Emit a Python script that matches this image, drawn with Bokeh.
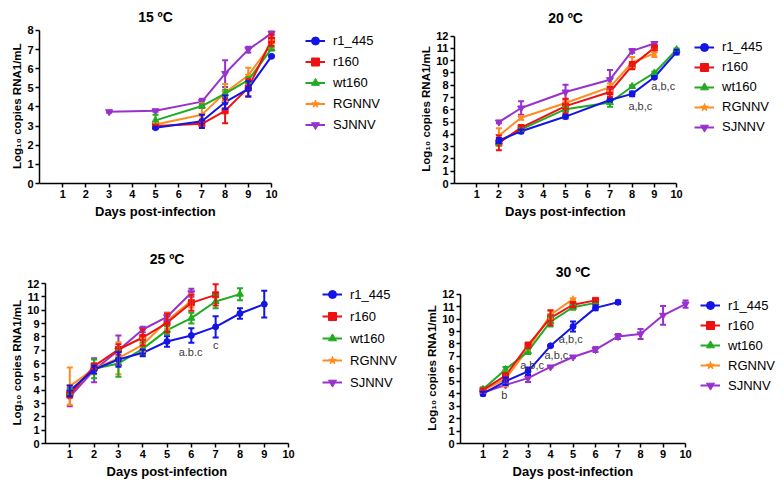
from bokeh.plotting import figure
from bokeh.layouts import column, row
from bokeh.models import (Range1d, FixedTicker, Legend, LegendItem, Whisker,
                          ColumnDataSource, Label, TeeHead, Title, Spacer)
from bokeh.embed import file_html
from bokeh.resources import INLINE

FONT = "Liberation Sans"

series = ["r1_445", "r160", "wt160", "RGNNV", "SJNNV"]
colors = {"r1_445": "#1414E6", "r160": "#EE1111", "wt160": "#22AA22",
          "RGNNV": "#FF8C1E", "SJNNV": "#9932CC"}
markers = {"r1_445": "circle", "r160": "square", "wt160": "triangle",
           "RGNNV": "star", "SJNNV": "inverted_triangle"}
msize = {"r1_445": 6, "r160": 6, "wt160": 7, "RGNNV": 7, "SJNNV": 7}

x_ticks = [1, 2, 3, 4, 5, 6, 7, 8, 9, 10]
x_label = "Days post-infection"
y_label = "Log\u2081\u2080 copies RNA1/mL"

# ---------------- 15 ºC ----------------
days15 = {"r1_445": [5, 7, 8, 9, 10], "r160": [5, 7, 8, 9, 10],
          "wt160": [5, 7, 8, 9, 10], "RGNNV": [5, 7, 8, 9, 10],
          "SJNNV": [3, 5, 7, 8, 9, 10]}
mean15 = {"r1_445": [2.92, 3.25, 4.25, 4.95, 6.65],
          "r160": [3.0, 3.12, 3.8, 5.0, 7.5],
          "wt160": [3.3, 4.05, 4.7, 5.4, 7.05],
          "RGNNV": [3.08, 3.6, 4.75, 5.65, 7.3],
          "SJNNV": [3.75, 3.8, 4.28, 5.75, 7.0, 7.85]}
sd15 = {"r1_445": [0.05, 0.35, 0.35, 0.4, 0.05],
        "r160": [0.05, 0.1, 0.65, 0.45, 0.3],
        "wt160": [0.3, 0.1, 0.2, 0.15, 0.1],
        "RGNNV": [0.1, 0.6, 0.45, 0.4, 0.2],
        "SJNNV": [0.05, 0.05, 0.15, 0.7, 0.15, 0.1]}

# ---------------- 20 ºC ----------------
days20 = {"r1_445": [2, 3, 5, 7, 8, 9, 10], "r160": [2, 3, 5, 7, 8, 9],
          "wt160": [2, 3, 5, 7, 8, 9, 10], "RGNNV": [2, 3, 5, 7, 8, 9],
          "SJNNV": [2, 3, 5, 7, 8, 9]}
mean20 = {"r1_445": [3.5, 4.25, 5.45, 6.8, 7.3, 8.65, 10.7],
          "r160": [3.3, 4.55, 6.3, 7.45, 9.6, 11.05],
          "wt160": [3.4, 4.4, 6.05, 6.6, 7.9, 9.0, 10.9],
          "RGNNV": [3.9, 5.35, 6.55, 7.85, 9.85, 10.6],
          "SJNNV": [5.0, 6.15, 7.45, 8.45, 10.8, 11.4]}
sd20 = {"r1_445": [0.2, 0.15, 0.15, 0.1, 0.2, 0.1, 0.2],
        "r160": [0.6, 0.2, 0.6, 0.4, 0.3, 0.2],
        "wt160": [0.3, 0.1, 0.2, 0.35, 0.1, 0.1, 0.1],
        "RGNNV": [0.6, 0.15, 0.3, 0.3, 0.45, 0.3],
        "SJNNV": [0.1, 0.55, 0.6, 0.8, 0.15, 0.1]}
notes20 = [("a,b,c", 8.37, 6.3), ("a,b,c", 9.4, 7.9)]

# ---------------- 25 ºC ----------------
days25 = {"r1_445": [1, 2, 3, 4, 5, 6, 7, 8, 9], "r160": [1, 2, 3, 4, 5, 6, 7],
          "wt160": [1, 2, 3, 4, 5, 6, 7, 8], "RGNNV": [1, 2, 3, 4, 5, 6],
          "SJNNV": [1, 2, 3, 4, 5, 6]}
mean25 = {"r1_445": [3.95, 5.55, 6.3, 6.8, 7.65, 8.1, 8.75, 9.75, 10.45],
          "r160": [3.65, 5.8, 7.05, 7.95, 9.05, 10.55, 11.15],
          "wt160": [3.9, 5.6, 6.0, 7.1, 8.5, 9.4, 10.65, 11.2],
          "RGNNV": [4.3, 5.6, 6.4, 7.4, 9.2, 10.7],
          "SJNNV": [3.5, 5.5, 7.0, 8.55, 9.5, 11.3]}
sd25 = {"r1_445": [0.4, 0.3, 0.55, 0.25, 0.4, 0.55, 0.8, 0.4, 1.0],
        "r160": [0.2, 0.2, 0.4, 0.6, 0.7, 0.6, 0.8],
        "wt160": [0.2, 0.7, 1.0, 0.5, 0.3, 0.4, 0.5, 0.45],
        "RGNNV": [1.4, 0.4, 1.2, 0.5, 0.6, 0.5],
        "SJNNV": [0.7, 0.9, 1.1, 0.2, 0.3, 0.3]}
notes25 = [("a.b.c", 5.97, 6.88), ("c", 7.0, 7.4)]

# ---------------- 30 ºC ----------------
days30 = {"r1_445": [1, 2, 3, 4, 5, 6, 7], "r160": [1, 2, 3, 4, 5, 6],
          "wt160": [1, 2, 3, 4, 5, 6], "RGNNV": [1, 2, 3, 4, 5],
          "SJNNV": [1, 2, 3, 4, 5, 6, 7, 8, 9, 10]}
mean30 = {"r1_445": [4.0, 5.0, 5.8, 7.85, 9.4, 10.9, 11.35],
          "r160": [4.3, 5.45, 7.9, 10.1, 11.15, 11.5],
          "wt160": [4.35, 5.95, 7.4, 9.8, 10.95, 11.3],
          "RGNNV": [4.25, 5.2, 7.6, 10.35, 11.6],
          "SJNNV": [4.1, 4.7, 5.25, 6.15, 6.95, 7.55, 8.6, 8.8, 10.3, 11.2]}
sd30 = {"r1_445": [0.15, 0.3, 0.3, 0.05, 0.4, 0.2, 0.15],
        "r160": [0.1, 0.2, 0.2, 0.6, 0.2, 0.1],
        "wt160": [0.1, 0.2, 0.2, 0.4, 0.2, 0.1],
        "RGNNV": [0.05, 0.6, 0.1, 0.3, 0.05],
        "SJNNV": [0.05, 0.1, 0.3, 0.05, 0.05, 0.2, 0.2, 0.4, 0.75, 0.3]}
notes30 = [("b", 1.95, 3.9), ("a,b,c", 3.18, 6.3), ("a,b,c", 4.26, 7.15),
           ("a,b,c", 4.9, 8.4)]

XLAB_W = 121   # approx. rendered width of the x label (px)
YLAB_W = 124   # approx. rendered length of the y label (px)


def make_panel(title, days, mean, sd, ymax, notes, geo):
    (fw, fh, x_end, y_end, title_y, leg_x, leg_y, leg_h) = geo
    ux = fw / x_end
    uy = fh / y_end
    p = figure(frame_width=fw, frame_height=fh,
               min_border_left=0, min_border_top=0,
               min_border_bottom=0, min_border_right=0,
               x_range=Range1d(0, x_end), y_range=Range1d(0, y_end),
               output_backend="svg", toolbar_location=None,
               background_fill_color="white", border_fill_color="white")
    p.outline_line_color = None
    p.xgrid.visible = False
    p.ygrid.visible = False

    for ax in (p.xaxis[0], p.yaxis[0]):
        ax.axis_line_width = 1.5
        ax.axis_line_color = "black"
        ax.major_tick_line_width = 1.5
        ax.major_tick_line_color = "black"
        ax.major_tick_out = 4
        ax.major_tick_in = 0
        ax.minor_tick_out = 0
        ax.minor_tick_in = 0
        ax.major_label_text_font = FONT
        ax.major_label_text_font_style = "bold"
        ax.major_label_text_font_size = "11px"
        ax.major_label_text_color = "black"
        ax.major_label_standoff = 2
    p.xaxis.ticker = FixedTicker(ticks=x_ticks)
    p.xaxis.bounds = (0, 10)
    p.yaxis.ticker = FixedTicker(ticks=list(range(0, ymax + 1)))
    p.yaxis.bounds = (0, ymax)

    # axis titles, centred on the drawn 0-10 / 0-ymax axis spans
    p.add_layout(Title(text=x_label, align="left",
                       offset=5 * ux - XLAB_W / 2, standoff=2,
                       text_font=FONT, text_font_size="13px",
                       text_font_style="bold", text_color="black"), "below")
    p.add_layout(Title(text=y_label, align="left",
                       offset=ymax * uy / 2 - YLAB_W / 2, standoff=3,
                       text_font=FONT, text_font_size="11.5px",
                       text_font_style="bold", text_color="black"), "left")

    items = {}
    for s in reversed(series):
        c = colors[s]
        lo = [m - e for m, e in zip(mean[s], sd[s])]
        hi = [m + e for m, e in zip(mean[s], sd[s])]
        src = ColumnDataSource(dict(x=days[s], y=mean[s], lo=lo, hi=hi))
        w = Whisker(source=src, base="x", upper="hi", lower="lo",
                    line_color=c, line_width=2, level="glyph",
                    upper_head=TeeHead(size=6, line_color=c, line_width=2),
                    lower_head=TeeHead(size=6, line_color=c, line_width=2))
        p.add_layout(w)
        ln = p.line("x", "y", source=src, line_color=c, line_width=2)
        mk = p.scatter("x", "y", source=src, marker=markers[s], size=msize[s],
                       fill_color=c, line_color=c)
        items[s] = LegendItem(label=s, renderers=[ln, mk])

    for txt, nx, ny in notes:
        p.add_layout(Label(x=nx, y=ny, text=txt, text_font=FONT,
                           text_font_size="11px", text_color="#3a3a3a",
                           text_align="center", text_baseline="middle"))

    # panel title, centred over the 0-10 axis span
    p.add_layout(Label(x=5, y=title_y, x_units="data", y_units="screen",
                       text=title, text_font=FONT, text_font_size="14px",
                       text_font_style="bold", text_color="black",
                       text_align="center", text_baseline="middle"))

    leg = Legend(items=[items[s] for s in series],
                 location=(leg_x, leg_y),
                 border_line_color=None, background_fill_alpha=0,
                 padding=0, margin=0, spacing=0,
                 label_height=leg_h, glyph_height=leg_h, glyph_width=20,
                 label_standoff=8, label_text_font=FONT,
                 label_text_font_size="13px", label_text_color="black")
    p.add_layout(leg)
    return p


#         fw   fh  x_end  y_end  title_y legx  legy  legh
geo15 = (377, 175, 16.25, 9.15, 167, 266, 47.8, 21)
geo20 = (316, 175, 14.23, 14.25, 166, 240, 46.3, 20)
geo25 = (377, 224, 15.51, 16.8, 185, 277, 49.7, 22)
geo30 = (316, 224, 14.04, 18.0, 172, 240, 48, 20)

p1 = make_panel("15 \u00baC", days15, mean15, sd15, 8, [], geo15)
p2 = make_panel("20 \u00baC", days20, mean20, sd20, 12, notes20, geo20)
p3 = make_panel("25 \u00baC", days25, mean25, sd25, 12, notes25, geo25)
p4 = make_panel("30 \u00baC", days30, mean30, sd30, 12, notes30, geo30)

layout = column(Spacer(width=10, height=8),
                row(Spacer(width=7, height=10), p1, p2),
                row(Spacer(width=7, height=10), p3, p4))
open("out.html", "w").write(file_html(layout, INLINE))
